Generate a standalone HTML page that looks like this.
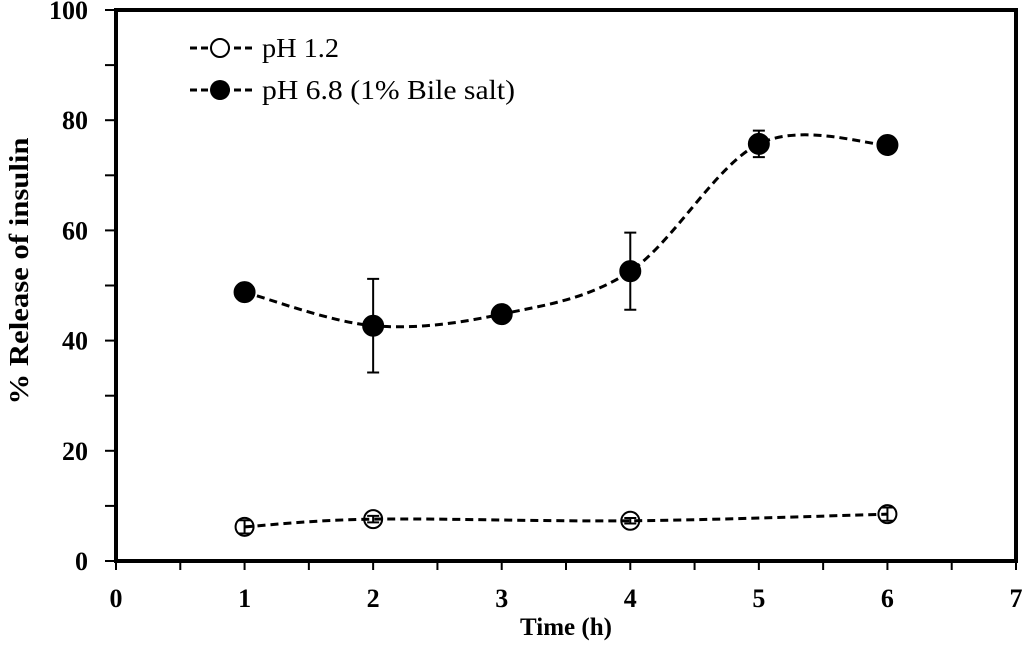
<!DOCTYPE html>
<html><head><meta charset="utf-8"><style>
body{margin:0;background:#fff}
svg text{font-family:"Liberation Serif",serif;fill:#000}
</style></head><body>
<svg id="chart" width="1024" height="644" viewBox="0 0 1024 644" xmlns="http://www.w3.org/2000/svg">
<g id="axes"></g>
<g id="series"></g>
<g id="legend">
  <line x1="190" y1="48" x2="252" y2="48" stroke="#000" stroke-width="3" stroke-dasharray="7,4"/>
  <circle cx="220" cy="48" r="9" fill="#fff" stroke="#000" stroke-width="2"/>
  <text x="262" y="57" font-size="27" textLength="77" lengthAdjust="spacingAndGlyphs">pH 1.2</text>
  <line x1="190" y1="90" x2="252" y2="90" stroke="#000" stroke-width="3" stroke-dasharray="7,4"/>
  <circle cx="220" cy="90" r="10" fill="#000"/>
  <text x="262" y="99" font-size="27" textLength="253" lengthAdjust="spacingAndGlyphs">pH 6.8 (1% Bile salt)</text>
</g>
<text x="566" y="635" font-size="25" font-weight="bold" text-anchor="middle">Time (h)</text>
<text transform="translate(28,271) rotate(-90)" font-size="27" font-weight="bold" text-anchor="middle" textLength="267" lengthAdjust="spacingAndGlyphs">% Release of insulin</text>
</svg>
<script>
const xTicks=[0,1,2,3,4,5,6,7];
const yTicks=[0,20,40,60,80,100];
const x1=[1,2,4,6];
const y1=[6.2,7.6,7.3,8.5];
const e1=[1.2,0.6,0.5,1.2];
const x2=[1,2,3,4,5,6];
const y2=[48.8,42.7,44.8,52.6,75.7,75.5];
const e2=[0,8.5,0,7,2.4,0];
const L=116,R=1016,T=10,B=561;
const sx=v=>L+(v-0)/7*(R-L);
const sy=v=>B-(v/100)*(B-T);
const NS="http://www.w3.org/2000/svg";
function mk(parent,tag,attrs){const e=document.createElementNS(NS,tag);for(const k in attrs)e.setAttribute(k,attrs[k]);parent.appendChild(e);return e;}
const ax=document.getElementById('axes');
let fr=mk(ax,'rect',{x:L,y:T,width:R-L,height:B-T,fill:'none',stroke:'#000','stroke-width':4});


xTicks.forEach(v=>{
 let t=mk(ax,'line',{x1:sx(v),x2:sx(v),y1:B,y2:B+9,stroke:'#000','stroke-width':2});
 
 
 if(v<7){let m=mk(ax,'line',{x1:sx(v+0.5),x2:sx(v+0.5),y1:B,y2:B+9,stroke:'#000','stroke-width':2});
 
 }
 let l=mk(ax,'text',{x:sx(v),y:B+46,'font-size':26,'font-weight':'bold','text-anchor':'middle'});l.textContent=v;
 
 
});
for(let v=0;v<=100;v+=10){
 let t=mk(ax,'line',{x1:L-11,x2:L,y1:sy(v),y2:sy(v),stroke:'#000','stroke-width':2});
 
 
}
yTicks.forEach(v=>{
 let l=mk(ax,'text',{x:L-28,y:sy(v)+9,'font-size':26,'font-weight':'bold','text-anchor':'end'});l.textContent=v;
 
 
});
function smooth(xs,ys){
 const p=xs.map((x,i)=>[sx(x),sy(ys[i])]);
 let d=`M${p[0][0]},${p[0][1]}`;
 for(let i=0;i<p.length-1;i++){
  const p0=p[i-1]||p[i],p1=p[i],p2=p[i+1],p3=p[i+2]||p[i+1];
  const c1=[p1[0]+(p2[0]-p0[0])/6,p1[1]+(p2[1]-p0[1])/6];
  const c2=[p2[0]-(p3[0]-p1[0])/6,p2[1]-(p3[1]-p1[1])/6];
  d+=` C${c1[0]},${c1[1]} ${c2[0]},${c2[1]} ${p2[0]},${p2[1]}`;
 }
 return d;
}
const sg=document.getElementById('series');
function drawSeries(xs,ys,es,fill,r,name){
 let p=mk(sg,'path',{d:smooth(xs,ys),fill:'none',stroke:'#000','stroke-width':3,'stroke-dasharray':'8,5'});
 
 
 xs.forEach((x,i)=>{
  if(es[i]>0){
   const cx=sx(x),a=sy(ys[i]+es[i]),b=sy(ys[i]-es[i]);
   let g=mk(sg,'path',{d:`M${cx},${a}V${b}M${cx-6},${a}H${cx+6}M${cx-6},${b}H${cx+6}`,stroke:'#000','stroke-width':2,fill:'none'});
   
   
  }
  let c=mk(sg,'circle',{cx:sx(x),cy:sy(ys[i]),r:r,fill:fill,stroke:'#000','stroke-width':2});
  
  
 });
}
drawSeries(x1,y1,e1,'none',9,'ph12');
drawSeries(x2,y2,e2,'#000',10,'ph68');
</script>
</body></html>
